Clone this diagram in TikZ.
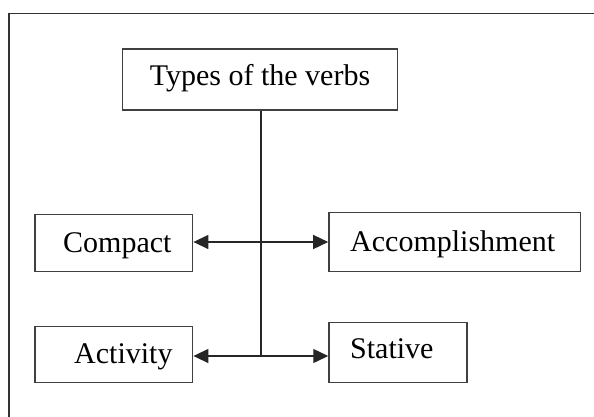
\documentclass[tikz,border=0pt]{standalone}
\usepackage{fontspec}
\setmainfont{Liberation Serif}
\usetikzlibrary{arrows.meta}
\begin{document}
\begin{tikzpicture}[x=1pt,y=-1pt,
  frame/.style={draw=black!80,line width=1.5pt},
  vbox/.style={draw=black!75,line width=1.5pt,rectangle,inner sep=0pt,
    font=\fontsize{30}{30}\selectfont},
  conn/.style={draw=black!85,line width=1.4pt},
  both/.style={{Triangle[length=15pt,width=14pt]}-{Triangle[length=15pt,width=14pt]}}]
\useasboundingbox (0,0) rectangle (594,416);
\clip (0,0) rectangle (594,416);
\draw[frame] (9,13.5) rectangle (620,440);
% boxes
\node[vbox,minimum width=275pt,minimum height=61pt] (types) at (260.2,79.7) {};
\node[font=\fontsize{30}{30}\selectfont,inner sep=0pt,anchor=base] (typest) at (260,85) {Types of the verbs};
\node[vbox,minimum width=157.7pt,minimum height=57.4pt] (compact) at (113.8,243) {};
\node[font=\fontsize{30}{30}\selectfont,inner sep=0pt,anchor=base west] (compactt) at (63,252) {Compact};
\node[vbox,minimum width=157.7pt,minimum height=56pt] (activity) at (113.8,354.3) {};
\node[font=\fontsize{30}{30}\selectfont,inner sep=0pt,anchor=base west] (activityt) at (74,363.5) {Activity};
\node[vbox,minimum width=251.7pt,minimum height=59pt] (accomp) at (454.8,242.2) {};
\node[font=\fontsize{30}{30}\selectfont,inner sep=0pt,anchor=base west] (accompt) at (350,251) {Accomplishment};
\node[vbox,minimum width=138pt,minimum height=60pt] (stative) at (398,352.5) {};
\node[font=\fontsize{30}{30}\selectfont,inner sep=0pt,anchor=base west] (stativet) at (350,358) {Stative};
% connectors
\coordinate (j1) at (261,242);
\coordinate (j2) at (261,356);
\draw[conn,both] (compact.east |- j1) -- (accomp.west |- j1);
\draw[conn,both] (activity.east |- j2) -- (stative.west |- j2);
\draw[conn] (types.south -| j1) -- (j2);
\end{tikzpicture}
\end{document}
